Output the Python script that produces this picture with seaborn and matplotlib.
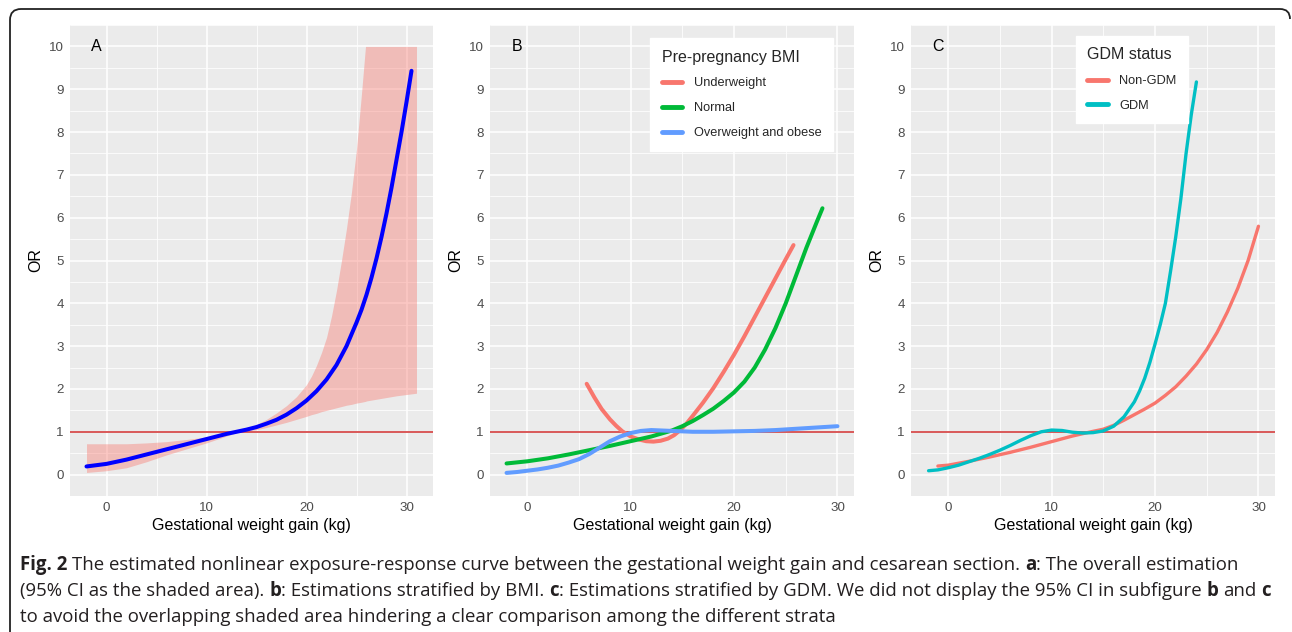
import matplotlib
matplotlib.use("Agg")
import matplotlib.pyplot as plt
import seaborn as sns
import numpy as np
import pandas as pd
from matplotlib.path import Path
from matplotlib.patches import PathPatch
from matplotlib.ticker import MultipleLocator

# ---- data ----
# Panel A: overall estimate with 95% CI
a_x = [-2, -1, 0, 1, 2, 3, 4, 5, 6, 7, 8, 9, 10, 11, 12, 13, 14, 15, 16, 17, 18, 19, 20, 21, 22, 23, 24, 25,
       25.5, 26, 26.5, 27, 27.5, 28, 28.5, 29, 29.5, 30, 30.5]
a_or = [0.19, 0.22, 0.25, 0.30, 0.35, 0.41, 0.47, 0.53, 0.59, 0.65, 0.71, 0.77, 0.83, 0.89, 0.95, 1.00, 1.05, 1.11,
        1.19, 1.28, 1.40, 1.55, 1.73, 1.95, 2.22, 2.56, 3.00, 3.55, 3.85, 4.20, 4.60, 5.05, 5.55, 6.10, 6.70, 7.35,
        8.00, 8.70, 9.43]
ci_x = [-2, 0, 2, 4, 6, 8, 10, 11, 12, 13, 14, 15, 16, 17, 18, 19, 20, 20.5, 21, 21.5, 22, 22.5, 23, 23.5, 24,
        24.5, 25, 25.5, 25.9, 26, 27, 28, 29, 30, 31]
ci_low = [0.05, 0.09, 0.16, 0.30, 0.46, 0.60, 0.74, 0.82, 0.90, 0.98, 1.02, 1.05, 1.10, 1.16, 1.22, 1.29, 1.36,
          1.40, 1.43, 1.47, 1.50, 1.53, 1.56, 1.59, 1.62, 1.64, 1.67, 1.69, 1.71, 1.72, 1.76, 1.80, 1.84, 1.87, 1.90]
ci_high = [0.72, 0.72, 0.72, 0.74, 0.77, 0.82, 0.88, 0.92, 0.96, 1.01, 1.08, 1.17, 1.29, 1.44, 1.61, 1.82, 2.10,
           2.30, 2.55, 2.85, 3.20, 3.70, 4.30, 5.00, 5.75, 6.60, 7.60, 8.90, 10, 10, 10, 10, 10, 10, 10]

# Panel B: stratified by pre-pregnancy BMI
bmi_groups = ["Underweight", "Normal", "Overweight and obese"]
under_x = [5.75, 6.5, 7.2, 8.0, 8.6, 9.2, 10.0, 10.8, 11.5, 12.2, 12.9, 13.6, 14.2, 14.8, 15.4, 16, 17, 18, 19,
           20, 21, 22, 23, 24, 25, 25.75]
under_or = [2.12, 1.80, 1.53, 1.29, 1.14, 1.01, 0.89, 0.82, 0.78, 0.77, 0.79, 0.84, 0.92, 1.04, 1.19, 1.37, 1.68,
            2.02, 2.40, 2.80, 3.23, 3.68, 4.13, 4.58, 5.03, 5.36]
normal_x = [-2, 0, 2, 4, 6, 8, 10, 12, 14, 15, 16, 17, 18, 19, 20, 21, 22, 23, 24, 25, 26, 27, 28, 28.55]
normal_or = [0.26, 0.31, 0.38, 0.47, 0.57, 0.67, 0.78, 0.89, 1.03, 1.13, 1.25, 1.39, 1.54, 1.72, 1.92, 2.17, 2.50,
             2.92, 3.42, 4.00, 4.65, 5.30, 5.90, 6.22]
over_x = [-2, -1, 0, 1, 2, 3, 4, 5, 6, 7, 8, 9, 10, 11, 12, 13, 14, 16, 18, 20, 22, 24, 26, 28, 30]
over_or = [0.04, 0.06, 0.09, 0.12, 0.16, 0.21, 0.28, 0.36, 0.48, 0.63, 0.78, 0.89, 0.97, 1.02, 1.04, 1.03, 1.02,
           1.00, 1.00, 1.01, 1.02, 1.04, 1.07, 1.10, 1.13]

# Panel C: stratified by GDM status
gdm_groups = ["Non-GDM", "GDM"]
nongdm_x = [-1, 0, 2, 4, 6, 8, 10, 12, 14, 15, 16, 17, 18, 19, 20, 21, 22, 23, 24, 25, 26, 27, 28, 29, 30]
nongdm_or = [0.20, 0.22, 0.31, 0.41, 0.52, 0.64, 0.77, 0.90, 1.01, 1.06, 1.15, 1.27, 1.40, 1.53, 1.67, 1.85, 2.05,
             2.30, 2.58, 2.92, 3.32, 3.80, 4.35, 5.00, 5.80]
gdm_x = [-1.9, -1, 0, 1, 2, 3, 4, 5, 6, 7, 8, 9, 10, 11, 12, 13, 14, 15, 16, 17, 18, 18.5, 19, 19.5, 20, 20.5,
         21, 21.5, 22, 22.5, 23, 23.5, 24]
gdm_or = [0.09, 0.11, 0.16, 0.22, 0.30, 0.38, 0.47, 0.57, 0.68, 0.80, 0.91, 1.00, 1.04, 1.03, 0.99, 0.97, 0.98,
          1.02, 1.13, 1.35, 1.70, 1.95, 2.25, 2.62, 3.05, 3.50, 4.00, 4.75, 5.55, 6.45, 7.50, 8.40, 9.17]

panel_labels = ["A", "B", "C"]
x_label = "Gestational weight gain (kg)"
y_label = "OR"

caption = [
    [("Fig. 2", True), (" The estimated nonlinear exposure-response curve between the gestational weight gain and cesarean section. ", False),
     ("a", True), (": The overall estimation", False)],
    [("(95% CI as the shaded area). ", False), ("b", True), (": Estimations stratified by BMI. ", False), ("c", True),
     (": Estimations stratified by GDM. We did not display the 95% CI in subfigure ", False), ("b", True), (" and ", False), ("c", True)],
    [("to avoid the overlapping shaded area hindering a clear comparison among the different strata", False)],
]
caption_widths = [1252, 1246, 818]   # pixel width of each caption line in the reference

# ---- style: ggplot-like grey panels ----
sns.set_theme(style="darkgrid", rc={
    "axes.facecolor": "#EBEBEB",
    "grid.color": "white",
    "axes.edgecolor": "#EBEBEB",
})
plt.rcParams['font.family'] = ['Liberation Sans', 'DejaVu Sans']

W, H = 1292, 632
fig = plt.figure(figsize=(W / 100, H / 100), dpi=100)
fig.patch.set_facecolor("white")

def px_axes(left, top, right, bottom):
    return fig.add_axes([left / W, 1 - bottom / H, (right - left) / W, (bottom - top) / H])

axA = px_axes(70, 25, 433, 496)
axB = px_axes(490, 25, 854, 496)
axC = px_axes(911, 25, 1275, 496)

def style_axis(ax, xlim, label):
    ax.set_xlim(*xlim)
    ax.set_ylim(-0.5, 10.5)
    ax.xaxis.set_major_locator(MultipleLocator(10))
    ax.xaxis.set_minor_locator(MultipleLocator(5))
    ax.yaxis.set_major_locator(MultipleLocator(1))
    ax.yaxis.set_minor_locator(MultipleLocator(0.5))
    ax.grid(which="major", color="white", lw=1.1)
    ax.grid(which="minor", color="white", lw=0.55)
    ax.tick_params(which="major", length=2.5, width=0.8, color="#333333",
                   labelsize=9.6, labelcolor="#4D4D4D", pad=2)
    ax.tick_params(which="minor", length=0)
    for s in ax.spines.values():
        s.set_visible(False)
    ax.axhline(1, color="#D02C2C", lw=1.1, zorder=2)
    ax.text(-1, 10, label, fontsize=11.5, color="black", ha="center", va="center", zorder=6)

def set_labels(ax):
    ax.set_xlabel(x_label, fontsize=11.5, color="black", labelpad=3)
    ax.set_ylabel(y_label, fontsize=11.5, color="black", labelpad=4)

def legend_like_ggplot(ax, title, anchor, loc):
    handles, labels = ax.get_legend_handles_labels()
    leg = ax.legend(handles, labels, title=title, loc=loc, bbox_to_anchor=anchor,
                    borderaxespad=0, frameon=True, fancybox=False, framealpha=1,
                    facecolor="white", edgecolor="white", fontsize=9.2,
                    title_fontsize=11.5, handlelength=1.6, handletextpad=0.9,
                    labelspacing=1.0, borderpad=0.9)
    leg._legend_box.align = "left"
    for ln in leg.get_lines():
        ln.set_linewidth(3.5)
    leg.set_zorder(10)
    return leg

# Panel A
style_axis(axA, (-3.65, 32.65), panel_labels[0])
axA.fill_between(ci_x, ci_low, ci_high, color="#F8766D", alpha=0.4, lw=0, zorder=1.5)
sns.lineplot(x=a_x, y=a_or, color="#0000FF", lw=2.9, ax=axA, zorder=3)
set_labels(axA)

# Panel B
style_axis(axB, (-3.6, 31.6), panel_labels[1])
df_b = pd.concat([
    pd.DataFrame({"gwg": under_x, "OR": under_or, "group": bmi_groups[0]}),
    pd.DataFrame({"gwg": normal_x, "OR": normal_or, "group": bmi_groups[1]}),
    pd.DataFrame({"gwg": over_x, "OR": over_or, "group": bmi_groups[2]}),
])
sns.lineplot(data=df_b, x="gwg", y="OR", hue="group", hue_order=bmi_groups,
             palette=["#F8766D", "#00BA38", "#619CFF"], lw=2.9, estimator=None,
             ax=axB, zorder=3)
set_labels(axB)
legend_like_ggplot(axB, "Pre-pregnancy BMI", (0.942, 0.972), "upper right")

# Panel C
style_axis(axC, (-3.6, 31.6), panel_labels[2])
df_c = pd.concat([
    pd.DataFrame({"gwg": nongdm_x, "OR": nongdm_or, "group": gdm_groups[0]}),
    pd.DataFrame({"gwg": gdm_x, "OR": gdm_or, "group": gdm_groups[1]}),
])
sns.lineplot(data=df_c, x="gwg", y="OR", hue="group", hue_order=gdm_groups,
             palette=["#F8766D", "#00BFC4"], lw=2.4, estimator=None,
             ax=axC, zorder=3)
set_labels(axC)
legend_like_ggplot(axC, "GDM status", (0.453, 0.977), "upper left")

# ---- outer frame (rounded top corners, open on the right/bottom) ----
def fx(x):
    return x / W

def fy(y):
    return 1 - y / H

verts = [(fx(10), fy(640)), (fx(10), fy(20)), (fx(10), fy(9)), (fx(21), fy(9)),
         (fx(1280), fy(9)), (fx(1290), fy(9)), (fx(1290), fy(19))]
codes = [Path.MOVETO, Path.LINETO, Path.CURVE3, Path.CURVE3, Path.LINETO, Path.CURVE3, Path.CURVE3]
fig.patches.append(PathPatch(Path(verts, codes), transform=fig.transFigure,
                             fill=False, lw=1.3, edgecolor="#222222"))

# ---- caption with bold pieces ----
renderer = fig.canvas.get_renderer()
cap_font = "Open Sans"
cap_color = "#231F20"

def text_width(s, size, bold):
    t = fig.text(0, 0, s, fontsize=size, family=cap_font, weight="bold" if bold else "normal")
    w = t.get_window_extent(renderer).width
    t.remove()
    return w

def space_width(size):
    return text_width("a a", size, False) - text_width("aa", size, False)

def line_width(parts, size):
    sp = space_width(size)
    total = 0
    for s, b in parts:
        lead = len(s) - len(s.lstrip(" "))
        trail = len(s) - len(s.rstrip(" "))
        total += (lead + trail) * sp + text_width(s.strip(), size, b)
    return total

# one font size for the whole caption, small enough that no line runs past its reference width
size = 12.0
size = min(size * w / line_width(p, size) for p, w in zip(caption, caption_widths))

def draw_line(parts, x0, baseline, size):
    sp = space_width(size)
    x = x0
    for s, b in parts:
        lead = len(s) - len(s.lstrip(" "))
        trail = len(s) - len(s.rstrip(" "))
        x += lead * sp
        t = fig.text(fx(x), fy(baseline), s.strip(), fontsize=size, family=cap_font,
                     weight="bold" if b else "normal", color=cap_color, va="baseline", ha="left")
        x += t.get_window_extent(renderer).width + trail * sp

for parts, base in zip(caption, [570, 596, 622]):
    draw_line(parts, 20, base, size)

fig.savefig("out.png", dpi=100)
